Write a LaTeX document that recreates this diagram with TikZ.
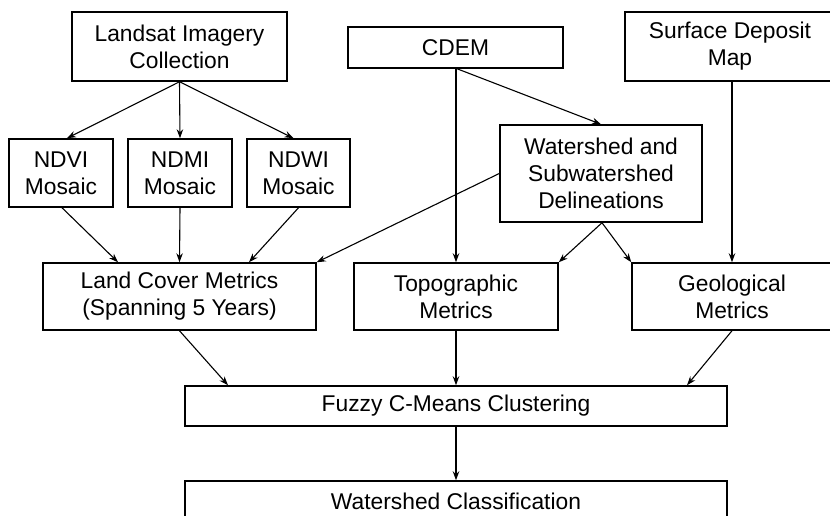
\documentclass[tikz,border=0pt]{standalone}
\usepackage{fontspec}
\setmainfont{Liberation Sans}
\usetikzlibrary{arrows.meta}
\begin{document}
\begin{tikzpicture}[x=1pt,y=-1pt,
  box/.style={draw, line width=1.5pt, align=center, inner sep=0pt,
    font=\fontsize{22.8}{27}\selectfont},
  arr/.style={-{Stealth[length=9pt,width=6.5pt]}, line width=1.1pt}]
\useasboundingbox (0,0) rectangle (830,516);
\clip (0,0) rectangle (830,516);
\node[box, minimum width=215pt, minimum height=69pt] (land) at (179.5,46.5) {Landsat Imagery\\Collection};
\node[box, minimum width=104pt, minimum height=68pt] (ndvi) at (61,173) {NDVI\\Mosaic};
\node[box, minimum width=104pt, minimum height=68pt] (ndmi) at (180,173) {NDMI\\Mosaic};
\node[box, minimum width=103pt, minimum height=68pt] (ndwi) at (298.5,173) {NDWI\\Mosaic};
\node[box, minimum width=215pt, minimum height=41pt] (cdem) at (455.5,47.5) {CDEM};
\node[box, minimum width=210pt, minimum height=69pt] (surf) at (730,46.5) {Surface Deposit\\Map};
\node[box, minimum width=202pt, minimum height=97pt] (wsd) at (601,173.5) {Watershed and\\Subwatershed\\Delineations};
\node[box, minimum width=273pt, minimum height=67pt] (lc) at (179.5,296.5) {Land Cover Metrics\\(Spanning 5 Years)};
\node[box, minimum width=204pt, minimum height=67pt] (topo) at (456,296.5) {Topographic\\Metrics};
\node[box, minimum width=200pt, minimum height=67pt] (geo) at (732,296.5) {Geological\\Metrics};
\node[box, minimum width=542pt, minimum height=40pt] (fuzzy) at (456,406) {Fuzzy C-Means Clustering};
\node[box, minimum width=542pt, minimum height=40pt] (wc) at (456,501) {Watershed Classification};

\draw[arr] (land.south) -- ([xshift=6pt]ndvi.north);
\draw[arr] (land.south) -- (ndmi.north);
\draw[arr] (land.south) -- ([xshift=-5pt]ndwi.north);
\draw[arr] ([xshift=1pt]ndvi.south) -- ([xshift=-61.5pt]lc.north);
\draw[arr] (ndmi.south) -- (lc.north);
\draw[arr] (ndwi.south) -- ([xshift=69.5pt]lc.north);
\draw[arr] (wsd.west) -- (lc.north east);
\draw[arr] ([xshift=1pt]wsd.south) -- (topo.north east);
\draw[arr] ([xshift=1pt]wsd.south) -- (geo.north west);
\draw[arr] (cdem.south -| topo.north) -- (topo.north);
\draw[arr] ([xshift=1.5pt]cdem.south) -- (wsd.north);
\draw[arr] (surf.south -| geo.north) -- (geo.north);
\draw[arr] (lc.south) -- ([xshift=-228pt]fuzzy.north);
\draw[arr] (topo.south) -- (fuzzy.north);
\draw[arr] (geo.south) -- ([xshift=231pt]fuzzy.north);
\draw[arr] (fuzzy.south) -- (wc.north);
\end{tikzpicture}
\end{document}
